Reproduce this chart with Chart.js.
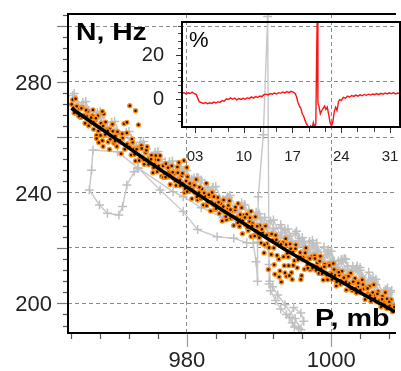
<!DOCTYPE html>
<html><head><meta charset="utf-8">
<script src="https://cdn.jsdelivr.net/npm/chart.js@4.4.1/dist/chart.umd.min.js"></script>
<style>
html,body{margin:0;padding:0;background:#fff;}
#wrap{position:relative;width:401px;height:371px;overflow:hidden;background:#fff;}
canvas{position:absolute;}
.lbl{position:absolute;font-family:'Liberation Sans',Arial,sans-serif;color:#000;line-height:1;white-space:nowrap;transform-origin:0 0;}
</style></head><body>
<div id="wrap">
<canvas id="main" width="401" height="371" style="left:0;top:0;width:401px;height:371px"></canvas>
<canvas id="inset" width="281" height="171" style="left:120px;top:0;width:281px;height:171px"></canvas>
<div class="lbl" style="left:76px;top:21px;font-size:23px;font-weight:bold;transform:scaleX(1.23)">N, Hz</div>
<div class="lbl" style="left:315px;top:307px;font-size:23px;font-weight:bold;transform:scaleX(1.25)">P, mb</div>
<div class="lbl" style="left:189px;top:29px;font-size:22px;">%</div>
</div>
<script>
// ---------- data ----------
const pressure = [
964.2,964.4,964.6,964.8,965.1,965.3,965.5,965.7,965.9,966.1,966.3,966.5,966.7,966.9,
967.1,967.3,967.5,967.7,967.9,968.1,968.3,968.5,968.7,968.9,969.1,969.3,969.5,969.7,969.9,
970.1,970.3,970.5,970.7,970.9,971.1,971.3,971.5,971.7,971.9,972.1,972.3,972.5,972.7,972.9,
973.1,973.3,973.5,973.7,973.9,974.1,974.3,974.5,974.7,974.9,975.1,975.3,975.5,975.7,975.9,
976.1,976.3,976.5,976.7,976.9,977.1,977.3,977.5,977.7,977.9,978.1,978.3,978.5,978.7,978.9,
979.1,979.3,979.5,979.7,979.9,980.1,980.3,980.5,980.7,980.9,981.1,981.3,981.5,981.7,981.9,
982.1,982.3,982.5,982.7,982.9,983.1,983.3,983.5,983.7,983.9,984.1,984.3,984.5,984.7,984.9,
985.1,985.3,985.5,985.7,985.9,986.1,986.3,986.5,986.7,986.9,987.1,987.3,987.5,987.7,987.9,
988.1,988.3,988.5,988.7,988.9,989.1,989.3,989.5,989.7,989.9,990.1,990.3,990.5,990.7,990.9,
991.1,991.3,991.5,991.7,991.9,992.1,992.3,992.5,992.7,992.9,993.1,993.3,993.5,993.7,993.9,
994.1,994.3,994.5,994.7,994.9,995.1,995.3,995.5,995.7,995.9,996.1,996.3,996.5,996.7,996.9,
997.1,997.3,997.5,997.7,997.9,998.1,998.3,998.5,998.7,998.9,999.1,999.3,999.5,999.7,999.9,
1000.1,1000.3,1000.5,1000.7,1000.9,1001.1,1001.3,1001.5,1001.7,1001.9,1002.1,1002.3,1002.5,1002.7,1002.9,
1003.1,1003.3,1003.5,1003.7,1003.9,1004.1,1004.3,1004.5,1004.7,1004.9,1005.1,1005.3,1005.5,1005.7,1005.9,
1006.1,1006.3,1006.5,1006.7,1006.9,1007.1,1007.3,1007.5,1007.7,1007.9,1008.1,1008.3,1008.5,1008.7,
972.9,971.7,967.8,968.4,969.3,967.5,967.0,968.3,978.9,979.6,980.0,987.6,988.9,
992.2,993.8,994.6,995.8,994.2,992.8,993.6,
964.05,964.4,964.75,965.05,965.4,965.75,966.05,966.4,966.75,967.05,967.4,967.75,968.05,968.4,968.75,
969.05,969.4,969.75,970.05,970.4,970.75,971.05,971.4,971.75,972.05,972.4,972.75,973.05,973.4,973.75,
974.05,974.4,974.75,975.05,975.4,975.75,976.05,976.4,976.75,977.05,977.4,977.75,978.05,978.4,978.75,
979.05,979.4,979.75,980.05,980.4,980.75,981.05,981.4,981.75,982.05,982.4,982.75,983.05,983.4,983.75,
984.05,984.4,984.75,985.05,985.4,985.75,986.05,986.4,986.75,987.05,987.4,987.75,988.05,988.4,988.75,
989.05,989.4,989.75,990.05,990.4,990.75,991.05,991.4,991.75,992.05,992.4,992.75,993.05,993.4,993.75,
994.05,994.4,994.75,995.05,995.4,995.75,996.05,996.4,996.75,997.05,997.4,997.75,998.05,998.4,998.75,
999.05,999.4,999.75,1000.05,1000.4,1000.75,1001.05,1001.4,1001.75,1002.05,1002.4,1002.75,1003.05,1003.4,1003.75,
1004.05,1004.4,1004.75,1005.05,1005.4,1005.75,1006.05,1006.4,1006.75,1007.05,1007.4,1007.75,1008.05,1008.4,1008.75
];
const frequency = [
273.5,270.7,273.8,268.5,270.4,267.1,270.7,267.8,265.0,267.6,269.3,264.4,266.0,267.7,
262.8,266.0,260.6,267.7,263.4,265.0,258.7,268.3,260.9,262.6,258.2,262.9,260.0,264.6,257.8,
260.4,256.6,261.7,258.3,254.0,259.6,264.8,255.9,261.5,256.7,271.3,253.5,258.1,255.7,251.4,
256.0,264.4,252.3,256.9,252.6,250.2,254.4,256.5,250.1,252.3,253.4,247.1,250.2,253.3,247.5,
249.6,253.3,245.9,249.6,246.8,250.4,245.6,247.2,242.9,249.6,245.2,246.9,242.5,249.2,244.8,
242.4,246.1,243.2,239.9,244.1,245.7,240.4,242.5,237.7,242.9,240.0,244.7,237.3,240.0,237.7,
241.3,235.5,238.7,243.3,236.5,238.6,233.3,240.0,235.6,233.8,236.0,238.2,232.4,236.0,229.7,
237.3,233.0,230.2,234.3,237.0,230.7,233.4,228.1,233.7,230.9,236.0,227.7,230.4,225.1,231.8,
228.4,232.1,226.3,229.5,224.1,228.8,224.5,231.2,225.9,224.5,228.1,221.8,225.5,218.2,227.9,
221.5,212.2,224.9,217.6,222.8,213.9,224.6,217.3,222.0,211.7,207.7,221.9,213.6,223.3,218.0,
213.6,221.4,211.1,218.7,215.4,221.1,212.8,216.5,218.3,210.0,216.6,212.3,220.0,213.7,216.4,
212.1,216.8,213.5,217.2,211.9,214.6,210.8,217.0,212.7,208.4,214.1,210.8,208.5,214.2,210.9,
208.6,214.4,210.1,206.3,211.5,210.2,206.9,211.6,207.3,209.5,204.8,209.5,207.2,210.9,204.6,
207.3,209.0,203.7,205.9,207.6,203.8,208.5,205.2,201.4,205.6,203.4,206.1,200.8,203.5,206.7,
202.9,200.6,204.3,201.0,198.7,202.5,200.2,203.9,198.1,200.3,199.1,201.3,197.0,199.2,
269.5,265.3,258.0,256.6,255.5,259.5,269.8,269.2,250.8,251.5,249.0,234.5,233.2,
210.5,209.8,208.6,208.6,210.0,209.5,211.0,
271.8,268.7,271.1,267.5,270.4,267.8,269.7,264.1,267.0,265.4,266.8,262.2,260.6,264.0,265.4,
262.3,259.2,262.1,258.5,261.9,258.8,261.2,255.6,257.5,256.4,259.3,253.7,255.6,251.5,255.9,
251.8,255.2,252.1,252.0,248.9,251.8,251.7,248.1,245.5,245.5,248.9,246.8,247.3,244.2,247.1,
244.5,246.9,241.3,240.3,243.2,241.1,242.6,238.5,241.9,238.4,239.8,235.2,239.2,236.6,238.5,
234.1,236.5,234.4,234.9,231.3,235.3,233.8,231.2,234.7,229.1,232.0,230.0,231.0,227.4,230.9,
227.9,224.3,227.8,223.7,226.7,221.1,224.6,220.1,225.0,220.0,222.9,215.9,221.3,216.8,221.2,
216.7,219.7,213.7,219.7,215.7,216.7,215.7,218.2,212.7,216.2,212.7,216.2,213.2,215.2,210.7,
213.2,210.2,213.7,210.7,212.2,207.7,211.2,208.2,209.2,207.8,209.8,205.3,207.8,205.3,207.3,
204.8,206.8,202.9,205.4,202.9,203.9,201.9,203.4,200.0,201.5,199.5,201.6,200.6,198.1,198.7
];
const trackPressure = [
1006.0,1005.2,1004.1,1003.0,1002.2,1001.0,1000.1,999.0,998.2,997.0,996.1,995.0,994.0,993.1,992.0,
993.0,994.2,995.1,996.3,997.2,998.1,999.3,1000.2,1001.1,1002.3,1003.4,1004.3,1005.1,1006.2,1007.3,1008.0,1008.6,
1007.8,1006.9,1005.8,1004.8,1003.6,1002.5,1001.4,1000.4,999.5,998.5,997.5,996.6,995.6,994.6,993.6,992.6,
991.6,990.6,989.6,988.6,987.6,986.6,985.6,984.6,983.6,982.6,981.6,980.6,979.6,978.6,977.6,976.6,975.6,
974.6,973.6,972.6,971.6,970.6,969.6,968.6,967.6,966.6,965.6,964.8,964.2,
965.0,966.0,967.1,968.1,969.2,970.2,971.3,972.3,973.4,974.4,975.5,976.5,977.6,978.6,979.7,980.7,981.8,982.8,983.9,985.0,
984.0,983.0,982.0,981.0,980.0,979.0,978.0,977.0,978.1,979.2,980.3,981.4,982.5,983.6,984.7,985.8,986.9,988.0,989.1,990.2,991.2,
991.3,991.4,991.5,991.6,992.3,993.0,993.8,994.6,995.5,996.2,995.8,994.8,994.2,994.9,995.8,995.0,993.6,992.6,991.9,991.4,
991.2,990.6,989.9,989.8,989.8,989.6,989.2,988.3,986.5,984.2,981.5,979.5,976.3,973.3,972.7,971.7,971.1,970.6,969.0,967.9,
966.5,966.8,967.0,970.4,973.2,978.1,979.5,982.0,985.0,987.5,
988.6,989.7,990.8,991.9,993.0,994.1,995.2,996.3,997.4,998.5,999.6,1000.7,1001.8,1002.9,1004.0,1005.1,1006.2,1007.3,1008.4,
1007.5,1006.5,1005.5,1004.5,1003.5,1002.5,1001.5,1000.5,999.5,998.5,997.5,996.5,995.5,996.8,998.0,999.2,1000.4,1001.6,
1002.8,1004.0,1005.2,1006.4,1007.6,1008.8,
1008.2,1007.0,1006.0,1005.0,1004.0,1003.0,1002.0,1001.0,1000.0,999.0,998.0,997.0,996.0,995.0,994.0,993.0,
992.0,991.0,990.0,989.0,988.0,987.0,986.0,985.0,984.0,983.0,982.0,981.0,980.0,979.0,978.0,977.0,
976.0,975.0,974.0,973.0,972.0,971.0,970.0,969.0,968.0,967.0,966.0,965.0,964.4
];
const trackFrequency = [
207.0,211.2,208.8,213.4,210.6,215.3,214.7,220.3,218.5,222.3,220.6,225.3,222.8,227.2,227.1,
223.4,224.5,220.1,222.3,217.0,218.6,212.8,215.5,211.1,213.5,207.8,209.5,205.3,206.7,202.2,203.2,200.4,
205.5,202.7,209.3,206.8,213.5,210.2,215.8,212.2,217.6,215.1,221.6,218.9,223.4,220.9,226.5,224.1,
229.7,227.3,232.9,230.6,236.2,233.9,238.5,236.2,241.9,239.5,245.2,242.9,247.6,245.4,251.1,248.8,254.5,
252.3,258.1,255.9,261.7,259.5,265.3,262.1,268.9,266.7,272.5,271.0,275.0,
268.6,270.8,264.8,267.0,260.0,262.2,257.3,259.5,253.5,255.7,249.7,252.0,246.1,248.4,242.4,244.7,238.8,241.1,235.3,237.5,
236.2,241.8,239.5,245.2,242.9,248.6,246.4,251.1,247.2,249.3,243.4,245.5,239.7,241.9,236.0,238.2,232.4,235.6,229.8,231.0,225.4,
220.0,214.0,208.0,204.5,201.0,198.0,196.0,193.0,191.0,193.5,196.5,198.5,195.0,191.5,190.5,194.5,199.5,203.0,206.0,207.0,
303.5,260.8,238.5,222.0,208.0,215.0,221.7,221.9,223.5,224.0,226.6,233.1,240.9,248.7,247.5,242.7,234.9,231.9,232.5,235.5,
240.9,248.0,255.3,254.7,248.9,240.3,238.5,234.5,231.0,229.0,
233.6,227.8,231.0,225.2,228.4,222.6,226.0,219.3,222.7,216.1,219.4,212.8,216.2,209.6,212.9,206.3,208.7,203.2,204.6,
204.9,202.3,208.8,206.2,212.7,209.2,215.6,212.1,218.6,215.1,220.6,218.1,222.5,216.6,218.8,213.0,215.2,209.5,
211.7,205.9,208.2,202.4,204.8,199.0,
204.0,201.6,208.0,205.5,211.9,208.4,215.9,212.3,218.8,215.3,221.8,218.3,223.8,221.3,226.8,224.4,
230.1,227.7,232.3,230.0,235.6,233.2,238.9,236.5,242.2,239.8,244.5,242.2,247.9,245.6,251.4,249.1,
254.8,252.6,258.4,256.2,262.0,259.8,265.6,263.4,269.2,267.0,272.8,271.6,275.7
];
const fitPressure = [964.0,967,970,973,976,979,982,985,988,991,994,997,1000,1003,1006,1008.84];
const fitFrequency = [270.4,265.0,259.6,254.2,248.8,243.6,238.5,233.5,228.6,223.7,218.8,214.3,209.8,205.4,201.0,197.0];

const days = [
1.13,1.4,1.7,2.0,2.3,2.6,2.9,3.2,3.4,3.6,3.9,4.2,4.5,4.8,5.1,5.4,5.7,6.0,6.3,6.6,6.9,7.2,7.5,7.8,
8.1,8.4,8.7,9.0,9.3,9.6,9.9,10.2,10.5,10.8,11.1,11.4,11.7,12.0,12.3,12.6,12.9,13.2,13.5,13.8,14.1,
14.4,14.7,15.0,15.3,15.6,15.9,16.2,16.5,16.8,17.1,17.4,17.6,17.8,18.0,18.2,18.4,18.6,18.8,19.0,19.2,
19.4,19.6,19.8,20.0,20.2,20.35,20.45,20.55,20.65,20.8,21.0,21.2,21.4,21.6,21.8,22.0,22.2,22.4,22.6,
22.8,23.0,23.2,23.4,23.6,23.8,24.0,24.3,24.6,24.9,25.2,25.5,25.8,26.1,26.4,26.7,27.0,27.3,27.6,27.9,
28.2,28.5,28.8,29.1,29.4,29.7,30.0,30.3,30.6,30.9,31.2,31.5,31.8,32.1,32.44
];
const deviation = [
2.6,3.1,2.5,3.0,2.7,3.3,2.6,2.2,0.5,-1.0,-1.4,-1.8,-1.4,-1.9,-1.5,-1.8,-1.2,-1.6,-1.0,-1.3,-0.5,-0.8,0.3,0.0,
0.7,0.1,0.6,-0.2,0.4,0.0,0.5,0.1,0.8,0.4,1.2,0.6,1.3,0.9,1.6,1.3,2.2,2.4,2.1,2.7,2.4,
2.9,2.5,3.1,2.8,3.4,3.0,3.6,3.1,3.7,3.3,2.6,1.0,-1.5,-3.0,-4.0,-6.5,-7.5,-9.5,-11.0,-12.0,
-13.5,-12.0,-13.0,-10.5,-12.8,-11.0,16.0,38.0,-1.5,-3.0,-6.5,-5.0,-4.0,-3.0,-4.5,-3.5,-7.0,-10.5,-12.0,
-10.0,-5.5,-3.5,-5.0,-1.0,0.0,-0.5,1.0,0.6,1.5,1.1,1.8,1.4,2.0,1.5,2.1,1.7,2.3,1.9,2.4,
2.0,2.5,2.2,2.7,2.2,2.8,2.4,2.9,2.5,3.0,2.6,3.1,2.5,2.9,2.6
];

const xTickLabels = [980, 1000];
const yTickLabels = [200, 240, 280];
const insetDayTicks = [3, 10, 17, 24, 31];
const insetDayLabels = ['03', '10', '17', '24', '31'];
const insetPctLabels = [0, 20];

// ---------- setup ----------
const FONT = "'Liberation Sans', Arial, sans-serif";
Chart.defaults.font.family = FONT;
Chart.defaults.color = '#222';
const toPts = (xs, ys) => xs.map((x, i) => ({x: x, y: ys[i]}));
const near = (a, b) => Math.abs(a - b) < 1e-6;
const noPad = s => { s.paddingTop = 0; s.paddingBottom = 0; s.paddingLeft = 0; s.paddingRight = 0; };

const mainXTicks = []; for (let v = 964; v <= 1008; v += 4) mainXTicks.push(v);
const mainYTicks = []; for (let v = 192; v <= 304; v += 4) mainYTicks.push(v);
const insetXTicks = []; for (let k = 0; k <= 12; k++) insetXTicks.push(3 + k * 7 / 3);
const insetYTicks = []; for (let k = -3; k <= 10; k++) insetYTicks.push(k * 10 / 3);

function framePlugin(id, specs, sides) {
  return {
    id: id,
    afterDraw(chart) {
      const ctx = chart.ctx, a = chart.chartArea;
      ctx.save();
      specs.forEach(s => {
        const sc = chart.scales[s.scale];
        sc.ticks.forEach(t => {
          const major = s.major(t.value);
          const len = major ? s.majorLen : s.minorLen;
          ctx.strokeStyle = major ? s.majorColor : s.minorColor;
          ctx.lineWidth = s.width;
          ctx.beginPath();
          const p = Math.round(sc.getPixelForValue(t.value)) + 0.5;
          if (sc.isHorizontal()) { ctx.moveTo(p, a.bottom); ctx.lineTo(p, a.bottom + len); }
          else { ctx.moveTo(a.left, p); ctx.lineTo(a.left - len, p); }
          ctx.stroke();
        });
      });
      ctx.strokeStyle = '#000'; ctx.lineWidth = 2; ctx.lineCap = 'square';
      ctx.beginPath();
      if (sides.includes('top')) { ctx.moveTo(a.left, a.top); ctx.lineTo(a.right, a.top); }
      if (sides.includes('left')) { ctx.moveTo(a.left, a.top); ctx.lineTo(a.left, a.bottom); }
      if (sides.includes('bottom')) { ctx.moveTo(a.left, a.bottom); ctx.lineTo(a.right, a.bottom); }
      if (sides.includes('right')) { ctx.moveTo(a.right, a.top); ctx.lineTo(a.right, a.bottom); }
      ctx.stroke();
      ctx.restore();
    }
  };
}

const gridColor = c => (c.tick && Math.abs(c.tick.value % 20) < 1e-6) ? '#8a8a8a' : 'rgba(0,0,0,0)';

new Chart(document.getElementById('main'), {
  type: 'scatter',
  data: {
    datasets: [
      {label: 'fit', data: toPts(fitPressure, fitFrequency), showLine: true, borderColor: '#000', borderWidth: 3.5,
       pointRadius: 0, cubicInterpolationMode: 'monotone', order: 0},
      {label: 'N', data: toPts(pressure, frequency), showLine: false, pointRadius: 2.0, pointBorderWidth: 1.4,
       pointBackgroundColor: '#2a1400', pointBorderColor: '#ff8a14', order: 1},
      {label: 'track', data: toPts(trackPressure, trackFrequency), showLine: true, borderColor: '#c8c8c8', borderWidth: 1.4,
       pointStyle: 'cross', pointRadius: 4.5, pointBorderColor: '#c0c0c0', pointBorderWidth: 1.5, order: 2}
    ]
  },
  options: {
    responsive: false, animation: false, devicePixelRatio: 1,
    layout: {padding: {top: 14, left: 0, right: 0, bottom: 0}},
    plugins: {legend: {display: false}, tooltip: {enabled: false}},
    scales: {
      x: {
        type: 'linear', min: 963.54, max: 1008.84,
        afterBuildTicks: s => { s.ticks = mainXTicks.map(v => ({value: v})); },
        afterFit: s => { s.height = 38; noPad(s); },
        ticks: {callback: v => xTickLabels.includes(v) ? String(v) : '', autoSkip: false, maxRotation: 0,
                padding: 15, font: {size: 22}, color: '#222'},
        grid: {drawTicks: false, color: gridColor, lineWidth: 1},
        border: {display: false, dash: [4, 3]}
      },
      y: {
        type: 'linear', min: 189.3, max: 304.4,
        afterBuildTicks: s => { s.ticks = mainYTicks.map(v => ({value: v})); },
        afterFit: s => { s.width = 68; noPad(s); },
        ticks: {callback: v => yTickLabels.includes(v) ? String(v) : '', autoSkip: false,
                padding: 16, labelOffset: 2, font: {size: 22}, color: '#222'},
        grid: {drawTicks: false, color: gridColor, lineWidth: 1},
        border: {display: false, dash: [4, 3]}
      }
    }
  },
  plugins: [framePlugin('mainFrame', [
    {scale: 'x', major: v => v % 20 === 0, majorLen: 14, minorLen: 6, majorColor: '#9a9a9a', minorColor: '#555', width: 1.2},
    {scale: 'y', major: v => v % 20 === 0, majorLen: 11, minorLen: 5, majorColor: '#7a7a7a', minorColor: '#555', width: 1.2}
  ], ['top', 'left', 'bottom'])]
});

new Chart(document.getElementById('inset'), {
  type: 'scatter',
  data: {
    datasets: [
      {label: '%', data: toPts(days, deviation), showLine: true, borderColor: '#ff1414', borderWidth: 1.4,
       pointRadius: 0, clip: 0}
    ]
  },
  options: {
    responsive: false, animation: false, devicePixelRatio: 1,
    layout: {padding: {top: 22, left: 0, right: 1, bottom: 0}},
    plugins: {legend: {display: false}, tooltip: {enabled: false}},
    scales: {
      x: {
        type: 'linear', min: 1.13, max: 32.44,
        afterBuildTicks: s => { s.ticks = insetXTicks.map(v => ({value: v})); },
        afterFit: s => { s.height = 44; noPad(s); },
        ticks: {callback: v => { const i = insetDayTicks.findIndex(d => near(d, v)); return i >= 0 ? insetDayLabels[i] : ''; },
                autoSkip: false, maxRotation: 0, padding: 13, font: {size: 15}, color: '#222'},
        grid: {display: false},
        border: {display: false}
      },
      y: {
        type: 'linear', min: -12.5, max: 35.2,
        afterBuildTicks: s => { s.ticks = insetYTicks.map(v => ({value: v})); },
        afterFit: s => { s.width = 62; noPad(s); },
        ticks: {callback: v => { const i = insetPctLabels.findIndex(d => near(d, v)); return i >= 0 ? String(insetPctLabels[i]) : ''; },
                autoSkip: false, padding: 10, font: {size: 20}, color: '#222'},
        grid: {display: false},
        border: {display: false}
      }
    }
  },
  plugins: [framePlugin('insetFrame', [
    {scale: 'x', major: v => insetDayTicks.some(d => near(d, v)), majorLen: 6, minorLen: 5, majorColor: '#333', minorColor: '#444', width: 1},
    {scale: 'y', major: v => insetPctLabels.some(d => near(d, v)), majorLen: 6, minorLen: 4, majorColor: '#333', minorColor: '#444', width: 1}
  ], ['top', 'left', 'bottom', 'right'])]
});
</script>
</body></html>
